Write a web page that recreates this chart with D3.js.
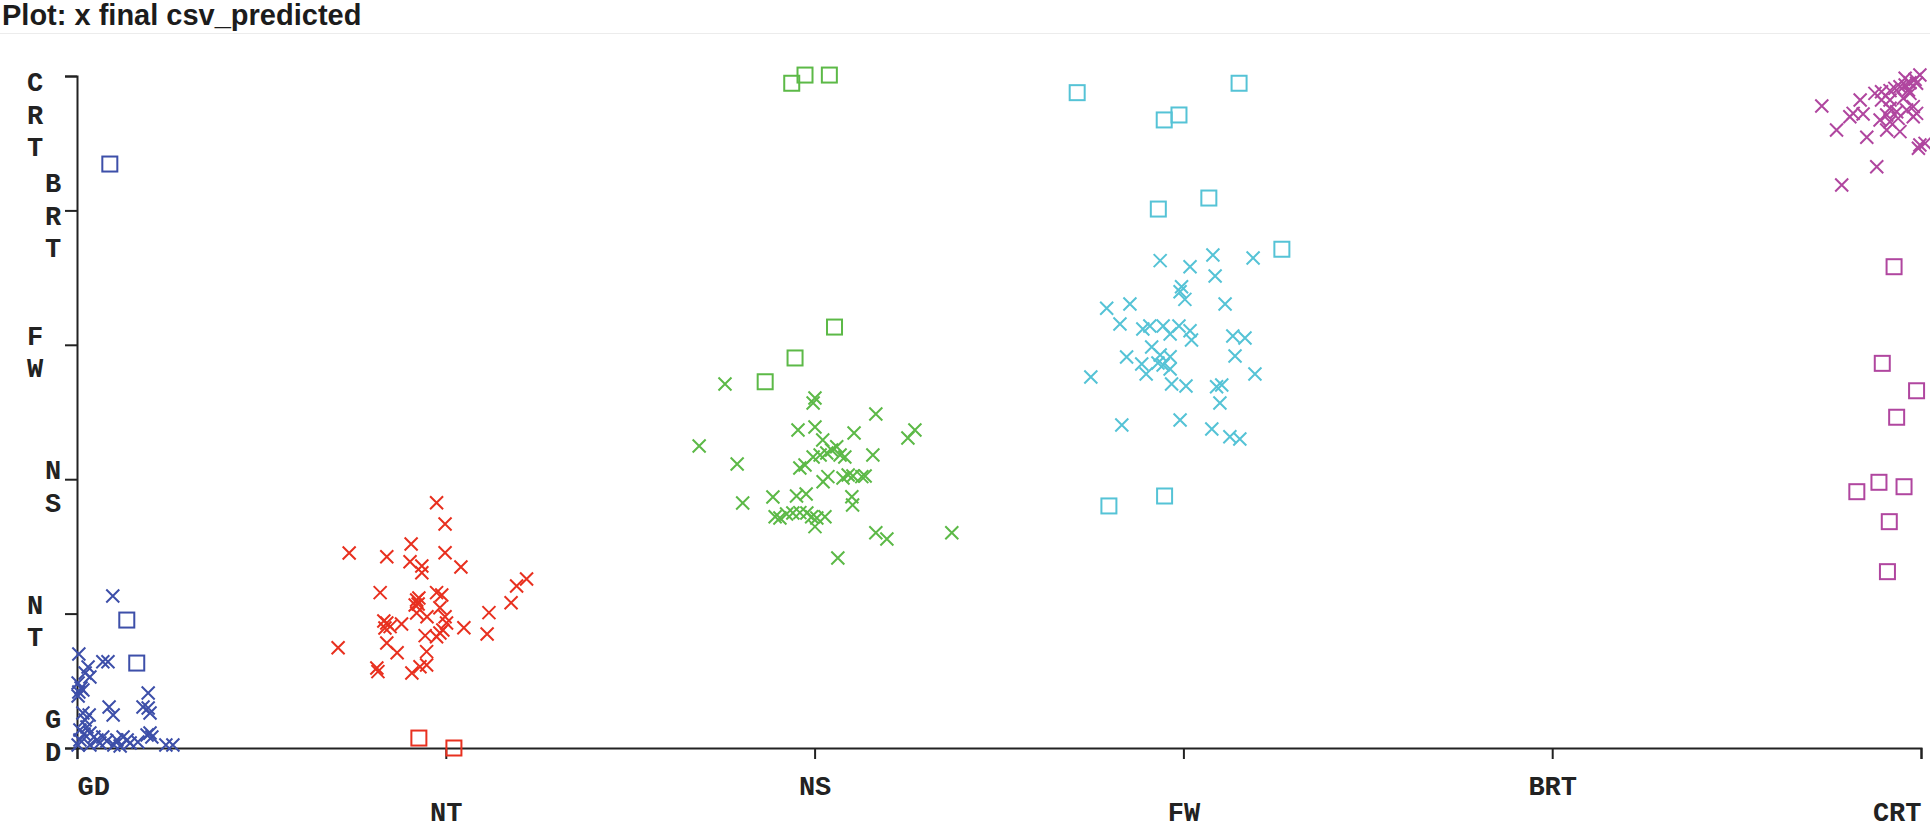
<!DOCTYPE html>
<html lang="en">
<head>
  <meta charset="UTF-8">
  <title>Plot: x final csv_predicted</title>
  <style>
    body { margin: 0; background: #ffffff; }
    #plot { display: block; }
    .title {
      font-family: "Liberation Sans", Arial, sans-serif;
      font-weight: bold;
      font-size: 29px;
      fill: #1c1c1c;
    }
    .axis path,
    .axis line {
      fill: none;
      stroke: #222222;
      stroke-width: 2px;
    }
    .axis text,
    .ylab {
      font-family: "Liberation Mono", "Courier New", monospace;
      font-weight: bold;
      font-size: 27px;
      fill: #222222;
    }
    .mark { fill: none; stroke-width: 2px; }
  </style>
</head>
<body>
<svg id="plot" width="1930" height="829"></svg>

<script src="https://cdn.jsdelivr.net/npm/d3@7"></script>
<script>
  "use strict";

  // class labels (x = actual, y = predicted)
  var categories = ["GD", "NT", "NS", "FW", "BRT", "CRT"];
  var colors = ["#3d4fa9", "#e8301f", "#5cb947", "#55c3d6", "#888888", "#b0469f"];

  // jittered positions [actual, predicted], crosses = correct, squares = wrong
  var gdHits = [
    [0.097,1.131],[0.005,0.699],[0.070,0.642],[0.084,0.642],[0.030,0.603],[0.022,0.558],
    [0.035,0.528],[0.003,0.484],[0.011,0.446],[0.005,0.417],[0.016,0.432],[0.003,0.387],
    [0.193,0.409],[0.179,0.305],[0.193,0.298],[0.198,0.260],[0.087,0.305],[0.098,0.246],
    [0.016,0.260],[0.033,0.246],[0.022,0.208],[0.027,0.156],[0.008,0.134],[0.019,0.104],
    [0.035,0.112],[0.046,0.082],[0.054,0.060],[0.070,0.082],[0.081,0.052],[0.062,0.037],
    [0.108,0.060],[0.125,0.082],[0.136,0.060],[0.144,0.037],[0.190,0.097],[0.198,0.112],
    [0.203,0.082],[0.241,0.022],[0.260,0.022],[0.003,0.022],[0.008,0.060],[0.100,0.022],
    [0.165,0.045],[0.117,0.015],[0.035,0.022]
  ];
  var gdMisses = [[0.089,4.345],[0.135,0.952],[0.162,0.632]];

  var ntHits = [
    [0.975,1.825],[0.998,1.667],[0.738,1.451],[0.840,1.423],[0.906,1.518],[0.998,1.453],
    [0.903,1.386],[0.935,1.354],[0.935,1.304],[1.041,1.347],[0.822,1.156],[0.921,1.101],
    [0.925,1.071],[0.917,1.064],[0.975,1.156],[0.989,1.138],[0.984,1.044],[0.921,1.004],
    [0.949,0.977],[0.998,0.977],[0.840,0.930],[0.849,0.903],[0.835,0.893],[0.880,0.923],
    [1.002,0.930],[0.992,0.878],[0.984,0.856],[0.975,0.828],[1.049,0.895],[1.117,1.007],
    [1.112,0.848],[1.192,1.205],[1.219,1.257],[1.177,1.081],[0.944,0.836],[0.708,0.746],
    [0.840,0.781],[0.868,0.709],[0.948,0.717],[0.813,0.595],[0.816,0.568],[0.908,0.558],
    [0.930,0.605],[0.948,0.618],[0.927,1.116],[0.832,0.945]
  ];
  var ntMisses = [[0.927,0.074],[1.022,0.000]];

  var nsHits = [
    [1.757,2.708],[2.001,2.604],[1.996,2.567],[2.166,2.485],[1.955,2.366],[2.001,2.388],
    [2.107,2.344],[2.272,2.366],[2.253,2.307],[2.022,2.292],[1.687,2.247],[2.060,2.242],
    [2.046,2.217],[2.033,2.195],[2.015,2.180],[1.996,2.165],[2.069,2.180],[2.082,2.165],
    [2.158,2.180],[1.790,2.113],[1.974,2.106],[1.960,2.083],[2.036,2.019],[2.023,1.981],
    [2.091,2.031],[2.077,2.009],[2.104,2.024],[2.128,2.019],[2.137,2.024],[1.887,1.868],
    [1.951,1.875],[1.977,1.890],[2.101,1.870],[2.103,1.808],[1.805,1.823],[1.893,1.721],
    [1.906,1.711],[1.924,1.741],[1.941,1.749],[1.960,1.751],[1.979,1.749],[1.992,1.721],
    [2.006,1.711],[2.028,1.721],[2.001,1.647],[2.166,1.602],[2.196,1.555],[2.372,1.602],
    [2.063,1.414]
  ];
  var nsMisses = [[1.938,4.946],[1.974,5.007],[2.040,5.007],[1.866,2.725],[1.947,2.902],[2.054,3.132]];

  var fwHits = [
    [2.937,3.626],[3.018,3.581],[3.080,3.668],[3.189,3.646],[3.086,3.512],[2.995,3.432],
    [2.991,3.395],[3.004,3.338],[2.792,3.272],[2.855,3.304],[3.113,3.304],[2.828,3.155],
    [2.890,3.118],[2.909,3.140],[2.945,3.140],[2.964,3.080],[2.988,3.140],[3.018,3.105],
    [3.022,3.036],[3.134,3.065],[3.167,3.051],[2.914,2.984],[2.846,2.909],[2.937,2.924],
    [2.964,2.911],[2.931,2.865],[2.945,2.850],[2.887,2.857],[3.140,2.917],[2.964,2.820],
    [2.899,2.783],[2.749,2.760],[3.194,2.783],[2.968,2.708],[3.007,2.693],[3.090,2.688],
    [3.104,2.701],[3.099,2.567],[2.833,2.403],[2.991,2.440],[3.077,2.374],[3.126,2.316],
    [3.153,2.299]
  ];
  var fwMisses = [
    [2.712,4.876],[2.948,4.673],[2.988,4.710],[3.151,4.946],[2.932,4.010],[3.069,4.092],
    [3.267,3.711],[2.798,1.801],[2.949,1.875]
  ];

  var crtHits = [
    [4.731,4.777],[4.771,4.598],[4.785,4.189],[4.880,4.325],[4.853,4.544],[4.835,4.821],
    [4.816,4.722],[4.807,4.697],[4.843,4.717],[4.875,4.871],[4.893,4.883],[4.916,4.891],
    [4.929,4.908],[4.943,4.920],[4.957,4.933],[4.970,4.950],[4.984,4.975],[4.997,5.007],
    [4.988,4.946],[4.966,4.896],[4.916,4.821],[4.893,4.821],[4.952,4.834],[4.916,4.760],
    [4.934,4.734],[4.961,4.747],[4.979,4.772],[4.988,4.722],[4.907,4.710],[4.889,4.673],
    [4.916,4.660],[4.938,4.685],[4.907,4.598],[4.943,4.586],[4.979,4.697],[4.993,4.462],
    [4.997,4.487],[5.011,4.499],[4.957,4.983],[4.970,4.871]
  ];
  var crtMisses = [
    [4.927,3.581],[4.895,2.862],[4.988,2.658],[4.934,2.461],[4.826,1.907],[4.886,1.977],
    [4.954,1.944],[4.914,1.684],[4.909,1.312]
  ];

  // first-letter offset of each stacked y label from its tick
  var yLabelShift = [-20, 0, 0, 0, -18, 15];

  var points = [];
  [[0, gdHits, gdMisses], [1, ntHits, ntMisses], [2, nsHits, nsMisses],
   [3, fwHits, fwMisses], [5, crtHits, crtMisses]].forEach(function(g){
    g[1].forEach(function(p){ points.push({cls: g[0], x: p[0], y: p[1], hit: true}); });
    g[2].forEach(function(p){ points.push({cls: g[0], x: p[0], y: p[1], hit: false}); });
  });

  var svg = d3.select("#plot");

  svg.append("text")
    .attr("class", "title")
    .attr("x", 2)
    .attr("y", 25)
    .text("Plot: x final csv_predicted");

  svg.append("line")
    .attr("x1", 0).attr("x2", 1930)
    .attr("y1", 33.5).attr("y2", 33.5)
    .attr("stroke", "#ececec");

  var xScale = d3.scaleLinear().domain([0, 5]).range([77, 1921]);
  var yScale = d3.scaleLinear().domain([0, 5]).range([748, 76]);
  var idx = d3.range(categories.length);

  // x axis
  var gx = svg.append("g")
    .attr("class", "axis")
    .attr("transform", "translate(0," + yScale(0) + ")")
    .call(d3.axisBottom(xScale)
      .tickValues(idx)
      .tickSize(11)
      .tickFormat(function(i){ return categories[i]; }));

  gx.selectAll(".tick text")
    .attr("dy", 0)
    .attr("y", function(d){ return d % 2 === 0 ? 47 : 73; })
    .attr("text-anchor", function(d){
      return d === 0 ? "start" : (d === categories.length - 1 ? "end" : "middle");
    });

  // y axis
  svg.append("g")
    .attr("class", "axis")
    .attr("transform", "translate(" + xScale(0) + ",0)")
    .call(d3.axisLeft(yScale)
      .tickValues(idx)
      .tickSize(12)
      .tickFormat(""));

  // y labels drawn as vertical letter stacks
  idx.forEach(function(i){
    var letters = categories[i].split("");
    svg.selectAll(null)
      .data(letters)
      .enter()
      .append("text")
      .attr("class", "ylab")
      .attr("text-anchor", "middle")
      .attr("x", i % 2 === 0 ? 53 : 35)
      .attr("y", function(d, k){ return yScale(i) + yLabelShift[i] + k * 32.5; })
      .text(function(d){ return d; });
  });

  // marks
  var marks = svg.append("g")
    .selectAll("g")
    .data(points)
    .enter()
    .append("g")
    .attr("transform", function(d){
      return "translate(" + xScale(d.x) + "," + yScale(d.y) + ")";
    });

  marks.filter(function(d){ return d.hit; })
    .append("path")
    .attr("class", "mark")
    .attr("d", "M-6.5,-6.5L6.5,6.5M6.5,-6.5L-6.5,6.5")
    .attr("stroke", function(d){ return colors[d.cls]; });

  marks.filter(function(d){ return !d.hit; })
    .append("rect")
    .attr("class", "mark")
    .attr("x", -7.5).attr("y", -7.5)
    .attr("width", 15).attr("height", 15)
    .attr("stroke", function(d){ return colors[d.cls]; });
</script>
</body>
</html>
